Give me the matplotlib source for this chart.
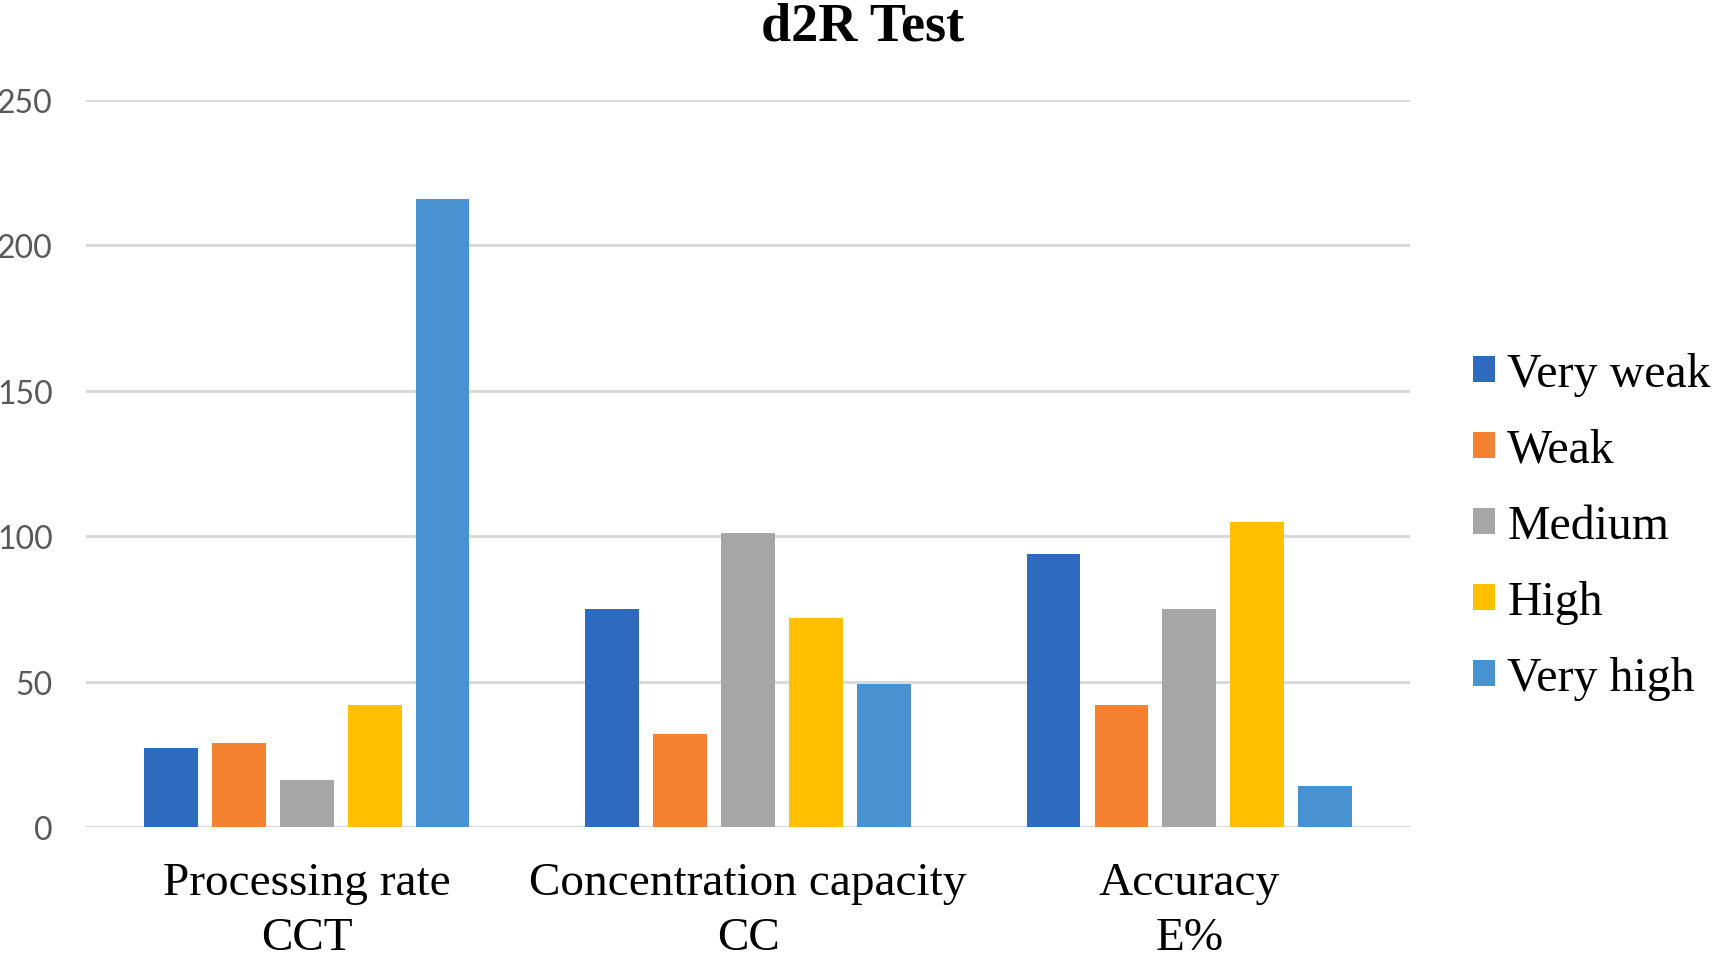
import matplotlib
matplotlib.use("Agg")
import matplotlib.pyplot as plt
import numpy as np

categories = ["Processing rate\nCCT", "Concentration capacity\nCC", "Accuracy\nE%"]
series_names = ["Very weak", "Weak", "Medium", "High", "Very high"]
very_weak = [27, 75, 94]
weak = [29, 32, 42]
medium = [16, 101, 75]
high = [42, 72, 105]
very_high = [216, 49, 14]
y_ticks = [0, 50, 100, 150, 200, 250]
title = "d2R Test"

series_values = [very_weak, weak, medium, high, very_high]
colors = ["#2E6BBE", "#F58230", "#A6A6A6", "#FFC000", "#4892D2"]

fig = plt.figure(figsize=(17.17, 9.54), dpi=100)
ax = fig.add_axes([0.0501, 0.1321, 0.7711, 0.762])

x = np.arange(len(categories))
bw = 0.1217
step = 0.154
for i, (name, vals, c) in enumerate(zip(series_names, series_values, colors)):
    ax.bar(x + (i - 2) * step, vals, width=bw, color=c, label=name, zorder=3)

ax.set_xlim(-0.5, 2.5)
ax.set_ylim(0, 250)
ax.set_yticks(y_ticks)
ax.yaxis.grid(True, color="#D9D9D9", linewidth=2.2, zorder=0)
ax.set_axisbelow(True)
for s in ax.spines.values():
    s.set_visible(False)
ax.tick_params(axis="y", length=0, pad=24, labelsize=23, labelcolor="#595959")
for lab in ax.get_yticklabels():
    lab.set_fontfamily("Lato")
ax.set_xticks(x)
ax.set_xticklabels(categories, fontfamily="Liberation Serif", fontsize=34, color="black",
                   linespacing=1.37)
ax.tick_params(axis="x", length=0, pad=25)

fig.text(0.5025, 0.971, title, ha="center", va="center", fontfamily="Liberation Serif",
         fontweight="bold", fontsize=39)

handles, labels = ax.get_legend_handles_labels()
fig.legend(handles, labels, loc="center left", bbox_to_anchor=(0.858, 0.4475),
           frameon=False, prop={"family": "Liberation Serif", "size": 34.5},
           handlelength=0.46, handleheight=0.46, handletextpad=0.25,
           labelspacing=0.67, borderpad=0, borderaxespad=0)

fig.savefig("out.png", dpi=100)
